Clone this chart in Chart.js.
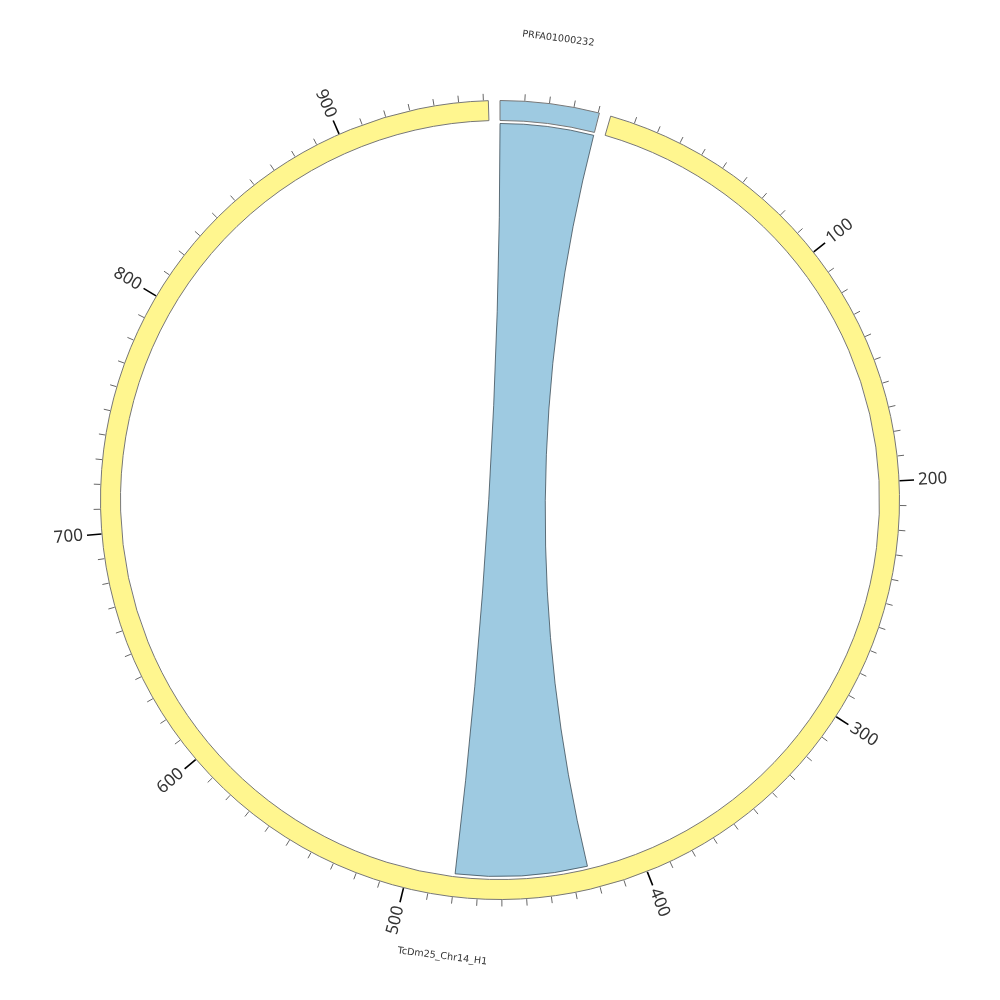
<!DOCTYPE html>
<html>
<head>
<meta charset="utf-8">
<script src="https://cdn.jsdelivr.net/npm/chart.js@4/dist/chart.umd.min.js"></script>
<style>
  html, body { margin: 0; padding: 0; background: #fff; }
</style>
</head>
<body>
<canvas id="chord" width="1000" height="1000"></canvas>
<script>
// sectors (units along each sector)
const sectorNames = ['PRFA01000232', 'TcDm25_Chr14_H1'];
const sectorLengths = [40.5, 962];
const gapLength = 4.7;
// tick labels shown on the axis
const majorTicks = [100, 200, 300, 400, 500, 600, 700, 800, 900];
const minorStep = 10;
// link: [sector, start, end]
const linkFrom = ['PRFA01000232', 0, 40.5];
const linkTo = ['TcDm25_Chr14_H1', 423, 480];

const sectorColors = ['rgb(158,202,225)', 'rgb(255,246,143)'];
const linkColor = 'rgb(158,202,225)';

// doughnut slices: sector, gap, sector, gap
const sliceData = [];
const sliceColors = [];
const sliceBorders = [];
sectorLengths.forEach(function(len, i) {
    sliceData.push(len, gapLength);
    sliceColors.push(sectorColors[i], 'rgba(0,0,0,0)');
    sliceBorders.push(1, 0);
});

function sectorArc(chart, name) {
    const idx = sectorNames.indexOf(name);
    const arc = chart.getDatasetMeta(0).data[idx * 2];
    return { arc: arc, len: sectorLengths[idx] };
}
function posAngle(s, pos) {
    return s.arc.startAngle + (s.arc.endAngle - s.arc.startAngle) * pos / s.len;
}

const chordPlugin = {
    id: 'chordExtras',
    afterDatasetsDraw: function(chart) {
        const ctx = chart.ctx;
        const first = chart.getDatasetMeta(0).data[0];
        const cx = first.x, cy = first.y;
        const rOut = first.outerRadius;
        const rIn = first.innerRadius;

        // link ribbon
        const a = sectorArc(chart, linkFrom[0]);
        const b = sectorArc(chart, linkTo[0]);
        const a1 = posAngle(a, linkFrom[1]), a2 = posAngle(a, linkFrom[2]);
        const b1 = posAngle(b, linkTo[1]), b2 = posAngle(b, linkTo[2]);
        const r = rIn - 3;
        ctx.save();
        ctx.beginPath();
        ctx.arc(cx, cy, r, a1, a2);
        ctx.quadraticCurveTo(cx, cy, cx + r * Math.cos(b1), cy + r * Math.sin(b1));
        ctx.arc(cx, cy, r, b1, b2);
        ctx.quadraticCurveTo(cx, cy, cx + r * Math.cos(a1), cy + r * Math.sin(a1));
        ctx.closePath();
        ctx.fillStyle = linkColor;
        ctx.fill();
        ctx.strokeStyle = '#2a3a44';
        ctx.lineWidth = 0.7;
        ctx.stroke();
        ctx.restore();

        // axis ticks and labels
        sectorNames.forEach(function(name) {
            const s = sectorArc(chart, name);
            for (let p = minorStep; p <= s.len; p += minorStep) {
                const t = posAngle(s, p);
                const major = majorTicks.indexOf(p) >= 0;
                const len = major ? 15 : 7;
                ctx.save();
                ctx.beginPath();
                ctx.moveTo(cx + (rOut + 0.5) * Math.cos(t), cy + (rOut + 0.5) * Math.sin(t));
                ctx.lineTo(cx + (rOut + len) * Math.cos(t), cy + (rOut + len) * Math.sin(t));
                ctx.strokeStyle = major ? '#000' : '#666';
                ctx.lineWidth = major ? 1.6 : 1;
                ctx.stroke();
                ctx.restore();
                if (major) {
                    ctx.save();
                    ctx.translate(cx, cy);
                    ctx.font = '17px "Noto Sans"';
                    ctx.fillStyle = '#333';
                    ctx.textBaseline = 'middle';
                    if (Math.cos(t) >= 0) {
                        ctx.rotate(t);
                        ctx.textAlign = 'left';
                        ctx.fillText(String(p), rOut + 19, 0);
                    } else {
                        ctx.rotate(t + Math.PI);
                        ctx.textAlign = 'right';
                        ctx.fillText(String(p), -(rOut + 19), 0);
                    }
                    ctx.restore();
                }
            }

            // sector name
            const mid = posAngle(s, s.len / 2);
            ctx.save();
            ctx.translate(cx, cy);
            ctx.font = '9.6px "DejaVu Sans"';
            ctx.fillStyle = '#333';
            ctx.textAlign = 'center';
            ctx.textBaseline = 'middle';
            if (Math.sin(mid) < 0) {
                ctx.rotate(mid + Math.PI / 2);
                ctx.fillText(name, 0, -465);
            } else {
                ctx.rotate(mid - Math.PI / 2);
                ctx.fillText(name, 0, 460);
            }
            ctx.restore();
        });
    }
};

new Chart(document.getElementById('chord'), {
    type: 'doughnut',
    data: {
        labels: ['PRFA01000232', 'gap', 'TcDm25_Chr14_H1', 'gap'],
        datasets: [{
            data: sliceData,
            backgroundColor: sliceColors,
            borderColor: '#777',
            borderWidth: sliceBorders,
            hoverOffset: 0
        }]
    },
    options: {
        responsive: false,
        animation: false,
        rotation: 0,
        cutout: '95%',
        layout: { padding: 100 },
        events: [],
        plugins: {
            legend: { display: false },
            tooltip: { enabled: false }
        }
    },
    plugins: [chordPlugin]
});
</script>
</body>
</html>
